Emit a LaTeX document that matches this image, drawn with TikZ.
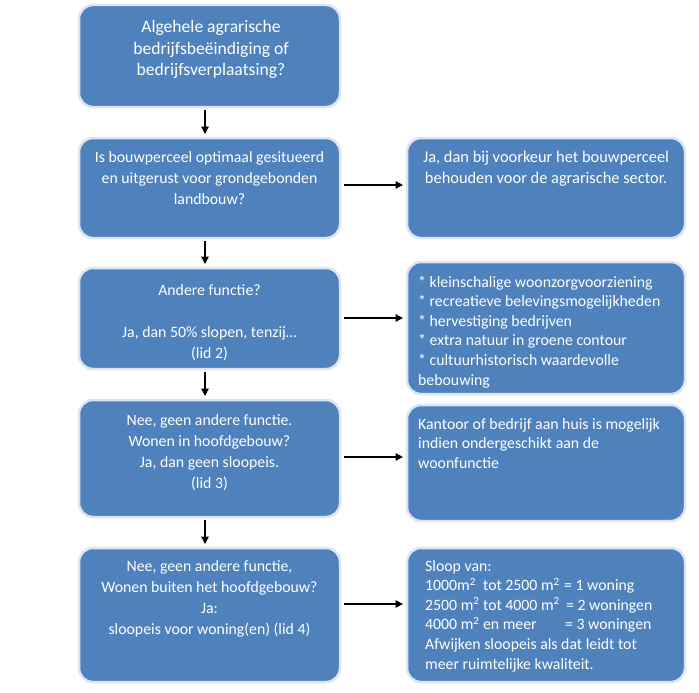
\documentclass[tikz,border=0pt]{standalone}
\usepackage{fontspec}
\setmainfont{Carlito}
\usetikzlibrary{arrows.meta}
\definecolor{boxblue}{HTML}{4F81BD}
\definecolor{boxedge}{HTML}{DCE5F1}
\newcommand{\ctr}[2]{\parbox[t]{#1}{\centering #2}}
\newcommand{\lft}[2]{\parbox[t]{#1}{\raggedright #2}}
\newcommand{\sq}{m\textsuperscript{2}}
\begin{document}
\begin{tikzpicture}[x=1pt,y=-1pt,
  box/.style={draw=boxedge, line width=2.5pt, fill=boxblue, rounded corners=14pt,
    inner sep=0pt, outer sep=0pt, anchor=north west},
  bigtxt/.style={text=white, inner sep=0pt, anchor=base, font=\fontsize{17.6}{21.3}\selectfont},
  midtxt/.style={text=white, inner sep=0pt, anchor=base, font=\fontsize{15.8}{21.3}\selectfont},
  smalltxt/.style={text=white, inner sep=0pt, anchor=base west, font=\fontsize{15.8}{19.6}\selectfont},
  arr/.style={line width=1.3pt, -{Triangle[length=7.5pt,width=7.5pt]}},
  varr/.style={arr, shorten <=3pt, shorten >=4pt},
  harr/.style={arr, shorten <=4pt, shorten >=4pt}]
\useasboundingbox (0,0) rectangle (699,693);
\fill[white] (0,0) rectangle (699,693);
% left column
\node[box, minimum width=261pt, minimum height=102pt] (b1) at (79,5) {};
\node[box, minimum width=261pt, minimum height=100pt] (b2) at (79,138) {};
\node[box, minimum width=261pt, minimum height=101pt] (b3) at (79,268) {};
\node[box, minimum width=261pt, minimum height=117pt] (b4) at (79,400) {};
\node[box, minimum width=261pt, minimum height=134pt] (b5) at (79,548) {};
% right column
\node[box, minimum width=278pt, minimum height=100pt] (r1) at (407,138) {};
\node[box, minimum width=278pt, minimum height=132pt] (r2) at (407,262) {};
\node[box, minimum width=278pt, minimum height=116pt] (r3) at (407,405) {};
\node[box, minimum width=278pt, minimum height=134pt] (r4) at (407,548) {};
% texts
\node[bigtxt] (t1) at (211,33) {\ctr{250pt}{Algehele agrarische\\bedrijfsbeëindiging of\\bedrijfsverplaatsing?}};
\node[midtxt] (t2) at (209.5,162) {\ctr{255pt}{Is bouwperceel optimaal gesitueerd\\en uitgerust voor grondgebonden\\landbouw?}};
\node[midtxt] (t3) at (209.5,295) {\ctr{255pt}{Andere functie?\\\mbox{}\\Ja, dan 50\% slopen, tenzij…\\(lid 2)}};
\node[midtxt] (t4) at (209.5,425) {\ctr{255pt}{Nee, geen andere functie.\\Wonen in hoofdgebouw?\\Ja, dan geen sloopeis.\\(lid 3)}};
\node[midtxt] (t5) at (209.5,571) {\ctr{255pt}{Nee, geen andere functie,\\Wonen buiten het hoofdgebouw?\\Ja:\\sloopeis voor woning(en) (lid 4)}};
\node[midtxt, font=\fontsize{16.4}{21.3}\selectfont] (u1) at (546,162) {\ctr{270pt}{Ja, dan bij voorkeur het bouwperceel\\behouden voor de agrarische sector.}};
\node[smalltxt] (u2) at (418,287) {\lft{265pt}{* kleinschalige woonzorgvoorziening\\{}* recreatieve belevingsmogelijkheden\\{}* hervestiging bedrijven\\{}* extra natuur in groene contour\\{}* cultuurhistorisch waardevolle\\bebouwing}};
\node[smalltxt] (u3) at (418,429) {\lft{265pt}{Kantoor of bedrijf aan huis is mogelijk\\indien ondergeschikt aan de\\woonfunctie}};
\node[smalltxt] (u4) at (425,571) {\lft{258pt}{Sloop van:\\\makebox[139pt][l]{1000\sq\ \ tot 2500 \sq}= 1 woning\\\makebox[141pt][l]{2500 \sq\ tot 4000 \sq}= 2 woningen\\\makebox[140pt][l]{4000 \sq\ en meer}= 3 woningen\\Afwijken sloopeis als dat leidt tot\\meer ruimtelijke kwaliteit.}};
% vertical connectors
\draw[varr] ([xshift=-4.5pt]b1.south) -- ([xshift=-4.5pt]b2.north);
\draw[varr] ([xshift=-4.5pt]b2.south) -- ([xshift=-4.5pt]b3.north);
\draw[varr] ([xshift=-4.5pt]b3.south) -- ([xshift=-4.5pt]b4.north);
\draw[varr] ([xshift=-4.5pt]b4.south) -- ([xshift=-4.5pt]b5.north);
% horizontal connectors
\coordinate (h2) at ([yshift=3pt]b2.east);
\coordinate (h3) at ([yshift=0.5pt]b3.east);
\coordinate (h4) at ([yshift=1.5pt]b4.east);
\coordinate (h5) at ([yshift=11pt]b5.east);
\draw[harr] (h2) -- (h2 -| r1.west);
\draw[harr] (h3) -- (h3 -| r2.west);
\draw[harr] (h4) -- (h4 -| r3.west);
\draw[harr] (h5) -- (h5 -| r4.west);
\end{tikzpicture}
\end{document}
